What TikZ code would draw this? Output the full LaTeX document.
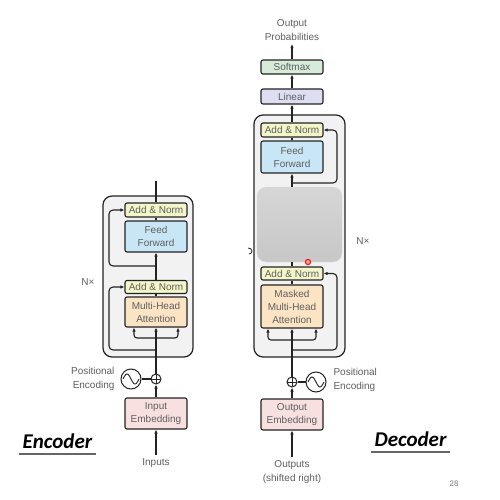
\documentclass[tikz,border=0pt]{standalone}
\usepackage{fontspec}
\setmainfont{Liberation Sans}
\newfontfamily\titlefont{Carlito}
\usetikzlibrary{arrows.meta,positioning}

\definecolor{normfill}{RGB}{243,246,200}
\definecolor{fffill}{RGB}{200,230,245}
\definecolor{attfill}{RGB}{251,228,196}
\definecolor{embfill}{RGB}{249,224,224}
\definecolor{smfill}{RGB}{214,236,216}
\definecolor{linfill}{RGB}{222,222,242}
\definecolor{stackfill}{RGB}{242,242,242}
\definecolor{txtgray}{RGB}{95,95,95}
\definecolor{linegray}{RGB}{35,35,35}

\tikzset{
  blk/.style={draw=linegray, line width=1.1pt, rounded corners=2pt, minimum width=62pt,
    align=center, inner sep=0pt, text=txtgray, font=\fontsize{10}{13}\selectfont},
  normblk/.style={blk, fill=normfill, minimum height=14pt},
  ffblk/.style={blk, fill=fffill, minimum height=31pt},
  attblk/.style={blk, fill=attfill},
  embblk/.style={blk, fill=embfill, minimum height=31pt},
  stackbox/.style={draw=linegray, line width=1.2pt, fill=stackfill, rounded corners=9pt},
  wire/.style={draw=linegray, line width=1.1pt},
  arr/.style={wire, -{Latex[length=4pt,width=3.5pt]}},
  lbl/.style={text=txtgray, align=center, font=\fontsize{10}{14}\selectfont},
  addop/.style={circle, draw=linegray, line width=1pt, fill=white, minimum size=10pt, inner sep=0pt,
    path picture={\draw[linegray, line width=0.8pt] (path picture bounding box.north) -- (path picture bounding box.south)
      (path picture bounding box.west) -- (path picture bounding box.east);}},
  sinop/.style={circle, draw=linegray, line width=1pt, fill=white, minimum size=20pt, inner sep=0pt},
  titletxt/.style={anchor=base, text=black, font=\titlefont\bfseries\itshape\fontsize{21}{21}\selectfont},
}

\begin{document}
\begin{tikzpicture}[x=1pt,y=-1pt]
  \useasboundingbox[fill=white] (0,0) rectangle (500,500);

  % encoder
  \draw[stackbox] (103,196) rectangle (193,357);
  \node[normblk] (ean2) at (156,210) {Add \& Norm};
  \node[ffblk] (eff) at (156,236.5) {Feed\\Forward};
  \node[normblk, minimum height=13pt] (ean1) at (156,287) {Add \& Norm};
  \node[attblk, minimum height=30pt] (emha) at (156,312) {Multi-Head\\Attention};
  \node[embblk] (eemb) at (156,413.5) {Input\\Embedding};
  \node[addop] (eplus) at (156,379) {};
  \node[sinop] (esin) at (131,379) {};
  \draw[linegray, line width=0.9pt, shift={(esin.center)}]
    plot[domain=-8:8, samples=40, smooth] (\x, {5*sin(\x*22.5)});
  \node[lbl, anchor=east, align=right] (epos) at (118,379) {Positional\\Encoding};
  \node[lbl] (ein) at (156,463) {Inputs};
  \node[lbl] (enx) at (88,282) {N×};

  \coordinate (eout) at (156,181);
  \coordinate (ebr2) at (156,266);
  \coordinate (efork) at (156,338);
  \coordinate (ebr1) at (156,350);
  \draw[arr] (ein.north) -- (eemb.south);
  \draw[arr] (eemb.north) -- (eplus.south);
  \draw[wire] (esin.east) -- (eplus.west);
  \draw[arr] (eplus.north) -- (emha.south);
  \draw[arr, rounded corners=3pt] (efork) -| ([xshift=-22pt]emha.south);
  \draw[arr, rounded corners=3pt] (efork) -| ([xshift=22pt]emha.south);
  \draw[arr, rounded corners=4pt] (ebr1) -- (109,350) |- (ean1.west);
  \draw[wire] (emha.north) -- (ean1.south);
  \draw[arr] (ean1.north) -- (eff.south);
  \draw[arr, rounded corners=4pt] (ebr2) -- (109,266) |- (ean2.west);
  \draw[wire] (eff.north) -- (ean2.south);
  \draw[wire] (ean2.north) -- (eout);

  % decoder
  \draw[stackbox] (254,115) rectangle (345,357);
  \node[blk, fill=smfill, minimum height=14pt] (dsm) at (292,67) {Softmax};
  \node[blk, fill=linfill, minimum height=15pt] (dlin) at (292,96.5) {Linear};
  \node[normblk] (dan3) at (292,130) {Add \& Norm};
  \node[ffblk, minimum height=32pt] (dff) at (292,157) {Feed\\Forward};
  \node[normblk, minimum height=13pt] (dan1) at (292,273.5) {Add \& Norm};
  \node[attblk, minimum height=43pt] (dmmha) at (292,306.5) {Masked\\Multi-Head\\Attention};
  \node[embblk] (demb) at (292,414.5) {Output\\Embedding};
  \node[addop] (dplus) at (292,382) {};
  \node[sinop] (dsin) at (316,382) {};
  \draw[linegray, line width=0.9pt, shift={(dsin.center)}]
    plot[domain=-8:8, samples=40, smooth] (\x, {5*sin(\x*22.5)});
  \node[lbl, anchor=west, align=left] (dpos) at (330,380) {Positional\\Encoding};
  \node[lbl] (dout) at (292,472) {Outputs\\(shifted right)};
  \node[lbl] (dprob) at (292,30) {Output\\Probabilities};
  \node[lbl] (dnx) at (363,241) {N×};

  % riquadro grigio sopra il blocco centrale
  \draw[draw=black!12, top color=black!16, bottom color=black!22, rounded corners=9pt]
    (257,187) rectangle (342,262);
  \draw[linegray, line width=0.8pt] (248,248) to[out=0,in=90] (252,251) to[out=-90,in=0] (249,254);

  \coordinate (dgtop) at (292,187);
  \coordinate (dgbot) at (292,262);
  \coordinate (dbr3) at (292,183);
  \coordinate (dfork) at (292,340);
  \coordinate (dbr1) at (292,350);
  \draw[arr] (dout.north) -- (demb.south);
  \draw[arr] (demb.north) -- (dplus.south);
  \draw[wire] (dsin.west) -- (dplus.east);
  \draw[arr] (dplus.north) -- (dmmha.south);
  \draw[arr, rounded corners=3pt] (dfork) -| ([xshift=-24pt]dmmha.south);
  \draw[arr, rounded corners=3pt] (dfork) -| ([xshift=24pt]dmmha.south);
  \draw[arr, rounded corners=4pt] (dbr1) -- (337,350) |- (dan1.east);
  \draw[wire] (dmmha.north) -- (dan1.south);
  \draw[wire] (dan1.north) -- (dgbot);
  \draw[arr] (dgtop) -- (dff.south);
  \draw[arr, rounded corners=4pt] (dbr3) -- (337,183) |- (dan3.east);
  \draw[wire] (dff.north) -- (dan3.south);
  \draw[arr] (dan3.north) -- (dlin.south);
  \draw[arr] (dlin.north) -- (dsm.south);
  \draw[arr] (dsm.north) -- (dprob.south);

  % puntatore
  \draw[red!85!orange, line width=1.1pt, fill=red!35] (308,262) circle (2.6);

  % titoli
  \node[titletxt] (etitle) at (57.5,448) {Encoder};
  \draw[black!60, line width=1.1pt] ([yshift=-6pt]etitle.base west) -- ([yshift=-6pt]etitle.base east);
  \node[titletxt] (dtitle) at (410.5,446) {Decoder};
  \draw[black!60, line width=1.1pt] ([yshift=-6pt]dtitle.base west) -- ([yshift=-6pt]dtitle.base east);
  \node[text=black!50, font=\fontsize{8}{8}\selectfont] (pnum) at (454,484) {28};
\end{tikzpicture}
\end{document}
